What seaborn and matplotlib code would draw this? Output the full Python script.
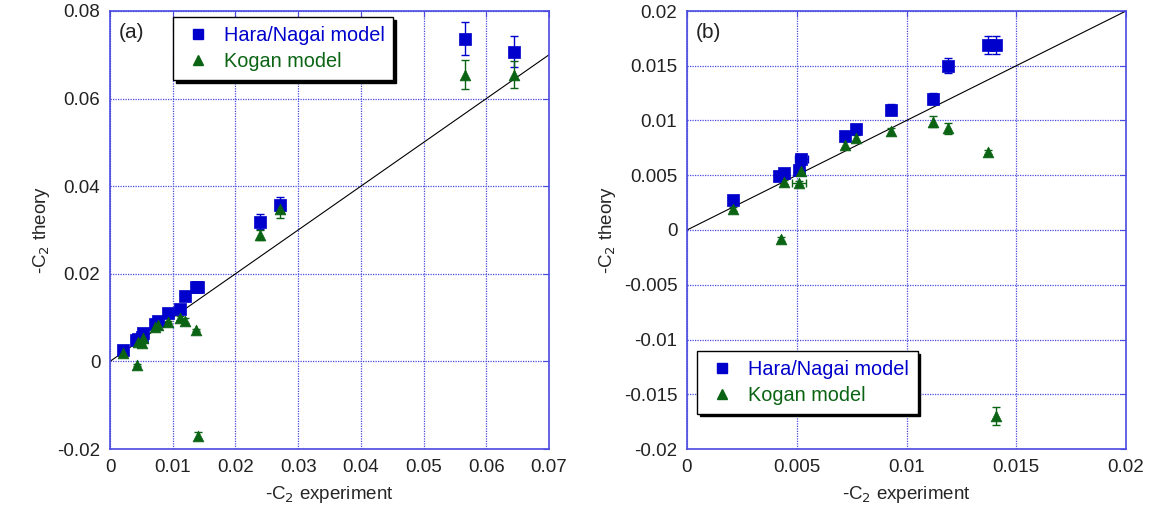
import numpy as np
import pandas as pd
import matplotlib
matplotlib.use("Agg")
import matplotlib.pyplot as plt
from matplotlib.lines import Line2D
import seaborn as sns

# Hara/Nagai model values (-C2 experiment, -C2 theory, errors)
hn_x = [0.0021, 0.0042, 0.0044, 0.0051, 0.0052, 0.0072, 0.0077, 0.0093,
        0.0112, 0.0119, 0.0137, 0.0141, 0.0239, 0.0271, 0.0566, 0.0644]
hn_y = [0.0027, 0.0049, 0.0052, 0.0055, 0.0065, 0.0086, 0.0092, 0.0110,
        0.0120, 0.0150, 0.0169, 0.0169, 0.0319, 0.0357, 0.0737, 0.0707]
hn_yerr = [0.0002, 0.0002, 0.0002, 0.0002, 0.0003, 0.0003, 0.0003, 0.0005,
           0.0005, 0.0007, 0.0008, 0.0008, 0.0017, 0.0019, 0.0037, 0.0035]
hn_xerr = [0, 0, 0, 0, 0.0003, 0, 0, 0,
           0, 0, 0, 0, 0, 0.0006, 0, 0]

# Kogan model values
kg_x = [0.0021, 0.0043, 0.0044, 0.0051, 0.0052, 0.0072, 0.0077, 0.0093,
        0.0112, 0.0119, 0.0137, 0.0141, 0.0239, 0.0271, 0.0566, 0.0644]
kg_y = [0.0019, -0.0008, 0.0044, 0.0043, 0.0054, 0.0078, 0.0084, 0.0090,
        0.0099, 0.0093, 0.0071, -0.0170, 0.0289, 0.0347, 0.0655, 0.0655]
kg_yerr = [0.0002, 0.0002, 0.0002, 0.0002, 0.0002, 0.0003, 0.0003, 0.0003,
           0.0005, 0.0005, 0.0002, 0.0008, 0.0012, 0.0020, 0.0034, 0.0030]
kg_xerr = [0, 0, 0, 0.0003, 0, 0, 0, 0,
           0, 0, 0, 0, 0, 0.0006, 0, 0]

# panel settings
panel_a_xticks = [0, 0.01, 0.02, 0.03, 0.04, 0.05, 0.06, 0.07]
panel_a_yticks = [-0.02, 0, 0.02, 0.04, 0.06, 0.08]
panel_b_xticks = [0, 0.005, 0.01, 0.015, 0.02]
panel_b_yticks = [-0.02, -0.015, -0.01, -0.005, 0, 0.005, 0.01, 0.015, 0.02]

BLUE = "#0000cc"
GREEN = "#0b6414"
AXBLUE = "#4a4ae0"

sns.set_style("white")
plt.rcParams["font.family"] = ["Liberation Sans", "DejaVu Sans"]

hn = pd.DataFrame({"x": hn_x, "y": hn_y})
kg = pd.DataFrame({"x": kg_x, "y": kg_y})


def draw_panel(ax, xticks, yticks, tag, legend_loc):
    lim = max(xticks)
    sns.lineplot(x=[0, lim], y=[0, lim], ax=ax, color="black", lw=0.8, zorder=2)
    ax.errorbar(hn_x, hn_y, yerr=hn_yerr, xerr=hn_xerr, fmt="none",
                ecolor=BLUE, elinewidth=1, capsize=3, zorder=3)
    ax.errorbar(kg_x, kg_y, yerr=kg_yerr, xerr=kg_xerr, fmt="none",
                ecolor=GREEN, elinewidth=1, capsize=3, zorder=3)
    sns.scatterplot(data=hn, x="x", y="y", ax=ax, marker="s", s=70,
                    color=BLUE, edgecolor=BLUE, linewidth=0.5, zorder=4)
    sns.scatterplot(data=kg, x="x", y="y", ax=ax, marker="^", s=60,
                    color=GREEN, edgecolor=GREEN, linewidth=0.5, zorder=5)

    ax.set_xlim(min(xticks), max(xticks))
    ax.set_ylim(min(yticks), max(yticks))
    ax.set_xticks(xticks)
    ax.set_yticks(yticks)
    ax.set_xticklabels([f"{v:g}" for v in xticks])
    ax.set_yticklabels([f"{v:g}" for v in yticks])
    ax.grid(True, color=AXBLUE, linestyle=(0, (1, 1)), linewidth=0.9)
    for sp in ax.spines.values():
        sp.set_color(AXBLUE)
        sp.set_linewidth(1.2)
        sp.set_visible(True)
    ax.tick_params(direction="in", length=4, color=AXBLUE, labelsize=13.5,
                   labelcolor="#222222", top=True, right=True, pad=7)
    ax.set_xlabel("-C$_2$ experiment", fontsize=13.5, labelpad=6)
    ax.set_ylabel("-C$_2$ theory", fontsize=13.5, labelpad=4)
    ax.text(0.02, 0.95, tag, transform=ax.transAxes, fontsize=15,
            ha="left", va="center", color="#222222")

    handles = [
        Line2D([], [], marker="s", color=BLUE, linestyle="none", markersize=7),
        Line2D([], [], marker="^", color=GREEN, linestyle="none", markersize=7),
    ]
    leg = ax.legend(handles, ["Hara/Nagai model", "Kogan model"],
                    bbox_to_anchor=legend_loc, loc="upper left",
                    borderaxespad=0, fontsize=14.3, frameon=True,
                    fancybox=False, framealpha=1, edgecolor="black",
                    shadow={"color": "black", "alpha": 1},
                    handletextpad=0.5, borderpad=0.45, labelspacing=0.35,
                    handlelength=1.6)
    leg.get_frame().set_linewidth(1.0)
    for t, c in zip(leg.get_texts(), [BLUE, GREEN]):
        t.set_color(c)


fig = plt.figure(figsize=(11.53, 5.21), dpi=100)
ax_a = fig.add_axes([110 / 1153, 72 / 521, 439 / 1153, 438 / 521])
ax_b = fig.add_axes([687 / 1153, 72 / 521, 439 / 1153, 438 / 521])

draw_panel(ax_a, panel_a_xticks, panel_a_yticks, "(a)", (0.1435, 0.986))
draw_panel(ax_b, panel_b_xticks, panel_b_yticks, "(b)", (0.023, 0.224))

fig.savefig("out.png", dpi=100)
